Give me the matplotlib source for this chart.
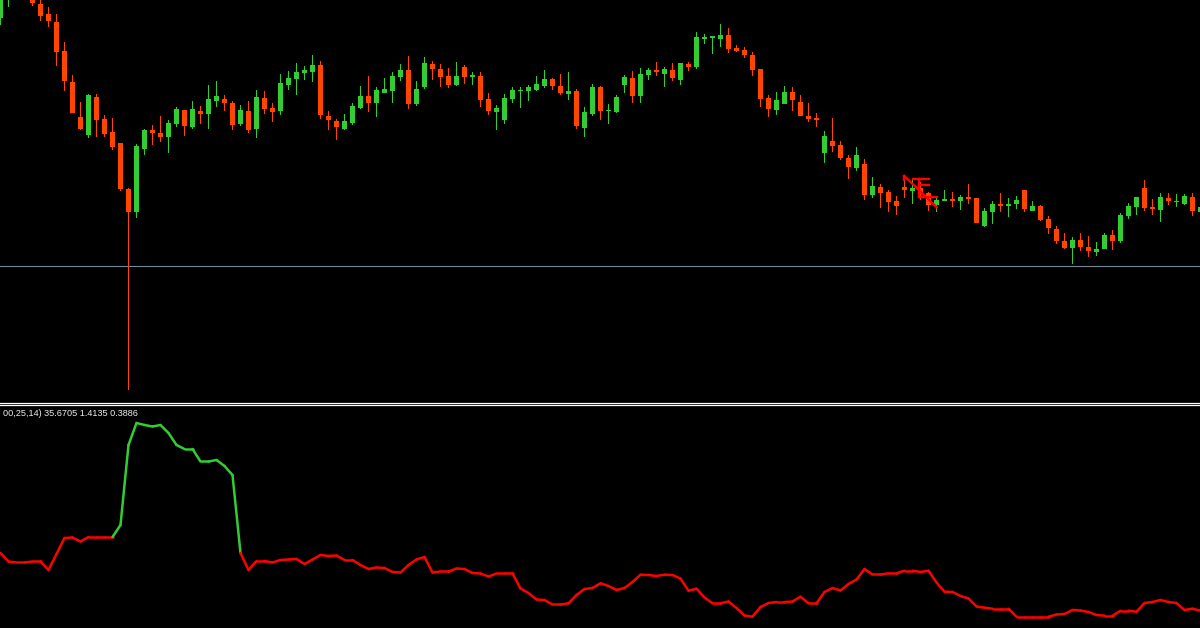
import matplotlib
matplotlib.use("Agg")
import matplotlib.pyplot as plt
from matplotlib.collections import LineCollection
from matplotlib.lines import Line2D
import numpy as np

# ---- Data (price values in chart units, larger value = lower on screen) ----
opens = [18, -3, -20, -14, -5, 4, 14, 22, 51, 82, 117, 135, 97, 119, 132, 143, 189, 212, 149, 130,
         133, 137, 124, 110, 127, 111, 114, 101, 99, 103, 124, 111, 129, 98, 108, 111, 85, 79, 73, 72,
         65, 116, 121, 129, 123, 108, 96, 103, 93, 91, 77, 70, 104, 87, 64, 69, 76, 85, 67, 76.5,
         76, 99, 112, 120, 99, 91, 91, 90, 86, 79, 86, 94, 91, 128, 114, 87, 110.5, 112, 85, 78,
         96, 75, 70, 74, 70, 80, 64, 67, 39, 38, 39, 35, 48, 50, 55, 69, 98, 110, 104, 92,
         102, 116, 118, 153, 141, 145, 158, 168, 164, 195, 187, 192, 201, 187, 191, 188, 193, 205, 201, 199,
         201, 197, 198, 226, 212, 204, 206, 204, 190, 211, 206, 219, 229, 241, 248, 240, 247, 252, 249, 235,
         241, 216, 207, 188, 207, 210, 198, 201.5, 204, 197, 212]
highs = [-10, -30, -32, -20, -10, -2, 7, 14, 42, 75, 102, 94, 94, 115, 118, 143, 188, 144, 129, 125,
         116, 120, 107, 110, 101, 106, 85, 81, 95, 101, 105, 101, 90, 91, 103, 74, 71, 63, 66, 55,
         61, 111, 119, 114, 103, 86, 76, 87, 78, 72, 64, 56, 81, 57, 61, 64, 68, 62, 65, 72,
         72, 93, 105, 94, 87, 87, 85, 76, 70, 78, 74, 72, 89, 107, 84, 86, 104, 95, 75, 71,
         68, 68, 62, 67, 63, 63, 62, 32, 34, 36, 24, 28, 45, 47, 52, 69, 95, 92, 86, 87,
         95, 103, 113, 131, 118, 141, 155, 147, 159, 177, 184, 190, 196, 177, 180, 182, 192, 198, 190, 192,
         195, 184, 198, 208, 201, 193, 198, 196, 190, 201, 205, 216, 226, 233, 237, 233, 236, 242, 233, 230,
         213, 203, 197, 180, 199, 193, 193, 194, 194, 193, 205]
lows = [25, 7, -10, -3, 6, 21, 27, 66, 91, 113, 130, 138, 137, 137, 150, 191, 390, 218, 155, 145,
        142, 153, 127, 136, 129, 124, 129, 107, 111, 130, 126, 133, 138, 114, 122, 115, 90, 95, 80, 82,
        119, 130, 140, 130, 125, 109, 112, 117, 93, 103, 81, 109, 106, 89, 80, 87, 88, 86, 84, 85,
        107, 115, 130, 124, 103, 108, 101, 91, 88, 90, 95, 100, 129, 137, 116, 120, 124, 113, 93, 103,
        103, 80, 76, 87, 81, 85, 71, 69, 44, 54, 47, 53, 52, 58, 76, 107, 117, 115, 104, 111,
        116, 122, 127, 163, 152, 160, 179, 171, 200, 198, 208, 212, 215, 198, 204, 200, 211, 212, 201, 207,
        210, 204, 223, 227, 224, 212, 217, 209, 212, 211, 221, 234, 244, 249, 264, 251, 257, 256, 249, 250,
        243, 219, 215, 211, 215, 222, 205, 207, 205, 216, 213]
closes = [-5, -22, -14, -6, 3, 16, 21, 52, 81, 113, 129, 95, 120, 134, 147, 189, 212, 146, 130, 133,
          137, 123, 109, 126, 109, 114, 99, 96, 103, 125, 110, 130, 97, 109, 112, 83, 78, 72, 70, 65,
          115, 120, 127, 121, 106, 96, 103, 90, 89, 76, 70, 104, 89, 63, 69, 77, 85, 76, 77, 75,
          100, 111, 108, 98, 90, 90, 87, 84, 79, 86, 93, 91, 126, 112, 87, 111, 109.5, 97, 77, 96,
          74, 70, 72, 69, 78, 63, 67, 37, 37, 36, 35, 49, 51, 55, 70, 99, 109, 100, 92, 100,
          116, 119, 120, 136, 146, 158, 167, 155, 195, 186, 193, 202, 206, 190, 188, 193, 205, 200, 199, 201,
          197, 199, 223, 211, 204, 206, 204, 200, 209, 206, 220, 228, 241, 248, 240, 247, 251, 249, 235, 241,
          215, 206, 197, 208, 209, 197, 201, 200.5, 196, 211, 207]

# Oscillator in the lower window
osc = [553, 561.5, 562.5, 562.5, 561.5, 561.5, 570, 554, 538, 537.5, 541.5, 537, 537, 537, 537, 525,
       445, 423, 425, 426.5, 425, 433, 445, 449, 449, 461.5, 461.5, 460, 466, 475, 553, 570,
       561, 561, 562.5, 560, 559.5, 559, 564, 559.5, 555, 556, 555.5, 560, 560, 565, 569, 567.5,
       568, 572, 572.5, 565, 559.5, 557, 572.5, 571.5, 571.5, 568.5, 569, 573, 573.5, 576.5, 573.5, 573.5,
       573.5, 588.5, 593, 599.5, 600, 604.5, 604.5, 603.3, 595, 589, 588, 583.3, 586, 590, 588, 582,
       574.7, 575, 576, 574.7, 575, 578.5, 590.7, 588.7, 597.5, 603.3, 603.3, 601.5, 608, 615.5, 616.7, 607,
       603, 602, 602, 601.5, 596.7, 603.3, 603.3, 592, 588, 590.5, 584, 579.5, 569, 574.5, 574.5, 573.3,
       573.3, 570.7, 570.7, 572, 570.7, 582.5, 591.7, 592, 596, 598.5, 606.5, 607.7, 608.7, 608.7, 608.7, 616.7,
       616.7, 616.7, 616.7, 616.7, 614.5, 614, 610, 610.5, 612, 615, 615.7, 615.7, 610.7, 610.7, 611.7, 603,
       602, 600, 602, 603, 610, 608.7, 610.7]
# Oscillator state for each segment start (1 = bullish / green)
osc_state = [0] * 14 + [1] * 16 + [0] * 121

level_line = 266
indicator_label = "00,25,14) 35.6705 1.4135 0.3886"

BULL = "#32CD32"
BEAR = "#FF4500"
W, H = 1200, 628
DPI = 100

fig = plt.figure(figsize=(W / DPI, H / DPI), dpi=DPI, facecolor="black")

main_bottom = 401
ax = fig.add_axes([0, 1 - main_bottom / H, 1, main_bottom / H], facecolor="black")
n = len(opens)
xs = np.arange(n)
ax.set_xlim(-0.0625, 149.9375)
ax.set_ylim(main_bottom, 0)
ax.axis("off")

ax.axhline(level_line, color="#778899", lw=0.8, zorder=1)

bar_unit = 1 / 8.0  # one bar slot spans 8 screen pixels
cols_c = [BULL if closes[i] <= opens[i] else BEAR for i in range(n)]
wick_len = [lows[i] - highs[i] for i in range(n)]
ax.bar(xs, wick_len, bottom=highs, width=bar_unit, color=cols_c, lw=0, zorder=2,
       antialiased=False)
body_top = [min(opens[i], closes[i]) for i in range(n)]
body_h = [max(abs(opens[i] - closes[i]), 1.0) for i in range(n)]
ax.bar(xs, body_h, bottom=body_top, width=5 * bar_unit, color=cols_c, lw=0, zorder=3,
       antialiased=False)

# "NE" marker drawn on the chart
ne_color = "#FF0000"
ne_lw = 1.7
ax.plot([112.98, 117.03], [176, 207.3], color=ne_color, lw=ne_lw, zorder=5)
ax.plot([114.1, 116.0], [179.3, 179.3], color=ne_color, lw=ne_lw, zorder=5)
ax.plot([114.85, 116.06], [185, 185], color=ne_color, lw=ne_lw, zorder=5)
ax.plot([114.85, 117.03], [196.7, 196.7], color=ne_color, lw=ne_lw, zorder=5)
ax.plot([114.85, 114.85], [179.3, 196.7], color=ne_color, lw=ne_lw, zorder=5)
ax.plot([112.98, 112.98], [176, 180], color=ne_color, lw=ne_lw, zorder=5)

# Lower indicator window
ind_top = 405
ax2 = fig.add_axes([0, 0, 1, (H - ind_top) / H], facecolor="black")
ax2.set_xlim(-0.0625, 149.9375)
ax2.set_ylim(H, ind_top)
ax2.axis("off")
pts = np.column_stack([xs, osc])
segs = [pts[i:i + 2] for i in range(n - 1)]
cols = [BULL if osc_state[i] else "#FF0000" for i in range(n - 1)]
lc = LineCollection(segs, colors=cols, linewidths=1.8, capstyle="round", joinstyle="round")
ax2.add_collection(lc)

# window separator lines
for yy in (402.5, 404.5):
    fig.add_artist(Line2D([0, 1], [1 - yy / H, 1 - yy / H], transform=fig.transFigure,
                          color="white", lw=0.9))

fig.text(3 / W, 1 - 413.5 / H, indicator_label, color="#EDEDED", fontsize=6.55,
         family=["Liberation Sans", "DejaVu Sans"], ha="left", va="center")

fig.savefig("out.png", dpi=DPI, facecolor="black")
